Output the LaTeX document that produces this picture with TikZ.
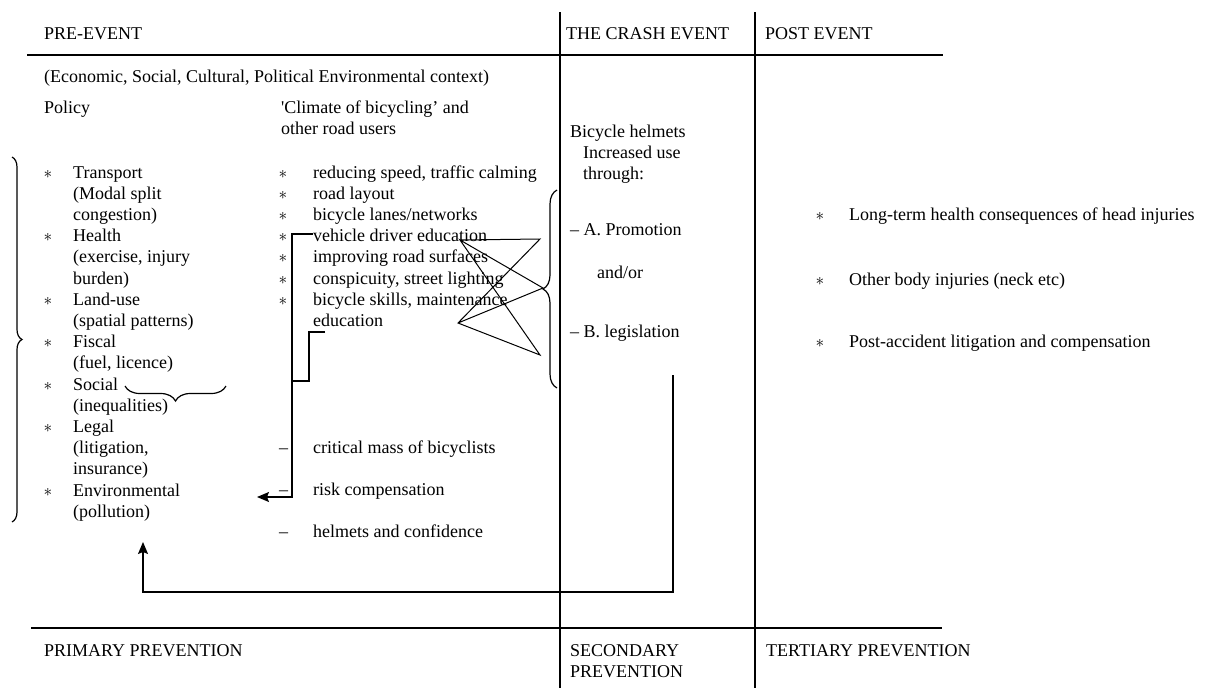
\documentclass[tikz,border=0pt]{standalone}
\usepackage{fontspec}
\setmainfont{Liberation Serif}
\usetikzlibrary{arrows,arrows.meta,positioning,decorations.pathreplacing}
\newcommand{\itemfont}{\fontsize{18}{21.2}\selectfont}
\newcommand{\bulfont}{\fontsize{16}{21.2}\selectfont}
\tikzset{
    %Define standard arrow tip
    >={Stealth[length=12pt,width=10pt,inset=2pt]},
    %Define style for text blocks (placed at the baseline of the last line)
    txt/.style={
           anchor=base west,
           inner sep=0pt,
           align=left,
           font=\itemfont},
    bul/.style={
           anchor=base,
           inner sep=0pt,
           align=center,
           font=\bulfont},
    % Define line styles
    rule/.style={draw=black, line width=2pt},
    pil/.style={draw=black, line width=1.2pt},
    brc/.style={draw=black, line width=1.2pt, decorate,
           decoration={brace, amplitude=#1}},
    brc/.default=10pt
}
\begin{document}
\begin{tikzpicture}[x=1pt,y=-1pt]
\useasboundingbox (0,0) rectangle (1214,688);

 %table rules
\draw[rule] (27,55) -- (943,55);
\draw[rule] (31,628) -- (942,628);
\draw[pil] (560,12) -- (560,688);
\draw[draw=black, line width=2.6pt] (755,12) -- (755,688);

 %headers
\node[txt] (pre) at (44,39) {PRE-EVENT};
\node[txt] (crash) at (566,39) {THE CRASH EVENT};
\node[txt] (post) at (765,39) {POST EVENT};
\node[txt] (context) at (44,82) {(Economic, Social, Cultural, Political Environmental context)};
\node[txt] (policy) at (44,113) {Policy};
\node[txt] (climate) at (281,134.2) {\textquotesingle Climate of bicycling' and\\other road users};

 %policy column
\node[bul] (polbul) at (48,496) {$\ast$\\[42.4pt]$\ast$\\[42.4pt]$\ast$\\[21.2pt]$\ast$\\[21.2pt]$\ast$\\[21.2pt]$\ast$\\[42.4pt]$\ast$};
\node[txt] (pollist) at (73,517.2) {Transport\\(Modal split\\congestion)\\Health\\(exercise, injury\\burden)\\Land-use\\(spatial patterns)\\Fiscal\\(fuel, licence)\\Social\\(inequalities)\\Legal\\(litigation,\\insurance)\\Environmental\\(pollution)};

 %climate column
\node[bul] (climbul) at (283,305.2) {$\ast$\\$\ast$\\$\ast$\\$\ast$\\$\ast$\\$\ast$\\$\ast$};
\node[txt] (climlist) at (313,326.4) {reducing speed, traffic calming\\road layout\\bicycle lanes/networks\\vehicle driver education\\improving road surfaces\\conspicuity, street lighting\\bicycle skills, maintenance\\education};
\node[txt] (dashes) at (279,537.8) {--\\[21.2pt]--\\[21.2pt]--};
\node[txt] (risks) at (313,537.8) {critical mass of bicyclists\\[21.2pt]risk compensation\\[21.2pt]helmets and confidence};

 %crash column
\node[txt] (helmets) at (570,137) {Bicycle helmets};
\node[txt] (increased) at (583,179.2) {Increased use\\through:};
\node[txt] (promo) at (570,235) {-- A. Promotion};
\node[txt] (andor) at (597,278) {and/or};
\node[txt] (legis) at (570,337) {-- B. legislation};

 %post column
\node[bul] (pb1) at (820,220) {$\ast$};
\node[txt] (longterm) at (849,220) {Long-term health consequences of head injuries};
\node[bul] (pb2) at (820,285) {$\ast$};
\node[txt] (otherinj) at (849,285) {Other body injuries (neck etc)};
\node[bul] (pb3) at (820,347) {$\ast$};
\node[txt] (litig) at (849,347) {Post-accident litigation and compensation};

 %bottom row
\node[txt] (primary) at (44,656) {PRIMARY PREVENTION};
\node[txt] (secondary) at (570,677.2) {SECONDARY\\PREVENTION};
\node[txt] (tertiary) at (766,656) {TERTIARY PREVENTION};

 %braces
\draw[brc=10pt] (12,157) -- (12,522);
\draw[brc=14pt] (557,388) -- (557,190);
\draw[brc=15pt] (226,386) -- (125,386);

 %connector points
\coordinate (drv) at (313,234);
\coordinate (edu) at (325,332);
\coordinate (riskend) at (257,497);
\coordinate (loopstart) at (673,375);
\coordinate (loopend) at (143,542);
\coordinate (zA) at (460,240);
\coordinate (zC) at (540,239);
\coordinate (zB) at (458,323);
\coordinate (zD) at (540,355);
\coordinate (tip) at (543,288);

 %connectors
\draw[pil,->] (drv) -- ++(-21,0) |- (riskend);
\draw[pil] (edu) -- ++(-16,0) -- ++(0,49) -- ++(-17,0);
\draw[pil,->] (loopstart) -- ++(0,217) -| (loopend);
\draw[pil, line width=1pt] (zA) -- (zC) -- (zB) -- (zD) -- (zA) -- (tip) -- (zB);
\end{tikzpicture}
\end{document}
